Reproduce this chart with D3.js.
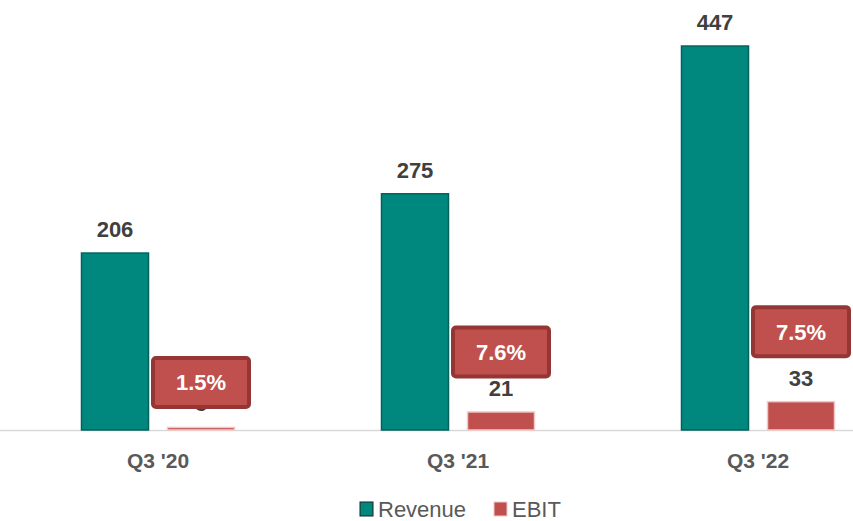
<!DOCTYPE html>
<html>
<head>
<meta charset="utf-8">
<script src="https://cdn.jsdelivr.net/npm/d3@7"></script>
<style>
  body { margin: 0; background: #fff; }
  text { font-family: "Liberation Sans", Arial, sans-serif; }
</style>
</head>
<body>
<div class="svg_area"></div>
<script>
// data
var categories = ["Q3 '20", "Q3 '21", "Q3 '22"];
var series = ["Revenue", "EBIT"];
var revenue = [206, 275, 447];
var ebit = [3, 21, 33];
var margins = ["1.5%", "7.6%", "7.5%"];

// layout
var svgWidth = 853;
var svgHeight = 521;
var baseY = 430;
var boxLift = [45, 60, 70]; // margin box centre above the EBIT bar top

var colors = { Revenue: "#00887f", EBIT: "#c0504d" };
var strokes = { Revenue: "#00625c", EBIT: "#f2c9c8" };

var svg = d3.select(".svg_area")
  .append("svg")
  .attr("width", svgWidth)
  .attr("height", svgHeight);

var x0 = d3.scaleBand()
  .domain(categories)
  .range([8, 908]);

var x1 = d3.scaleBand()
  .domain(series)
  .range([64, 236])
  .paddingInner(19 / 86)
  .paddingOuter(19 / 172);

var y = d3.scaleLinear()
  .domain([0, 500])
  .range([baseY, baseY - 500 * 0.859]);

var rows = categories.map(function(c, i) {
  return { cat: c, Revenue: revenue[i], EBIT: ebit[i], margin: margins[i], i: i };
});

// baseline
svg.append("line")
  .attr("x1", 0).attr("x2", svgWidth)
  .attr("y1", baseY + 0.5).attr("y2", baseY + 0.5)
  .attr("stroke", "#d9d9d9")
  .attr("stroke-width", 1.5);

var groups = svg.selectAll(".grp")
  .data(rows)
  .enter()
  .append("g")
  .attr("class", "grp")
  .attr("transform", d => `translate(${x0(d.cat)},0)`);

// bars
groups.selectAll("rect.bar")
  .data(d => series.map(s => ({ key: s, value: d[s] })))
  .enter()
  .append("rect")
  .attr("class", "bar")
  .attr("x", d => x1(d.key))
  .attr("y", d => y(d.value))
  .attr("width", x1.bandwidth())
  .attr("height", d => baseY - y(d.value))
  .attr("fill", d => colors[d.key])
  .attr("stroke", d => strokes[d.key])
  .attr("stroke-width", 1.5);

// value labels
groups.selectAll("text.val")
  .data(d => series.map(s => ({ key: s, value: d[s] })))
  .enter()
  .append("text")
  .attr("class", "val")
  .attr("x", d => x1(d.key) + x1.bandwidth() / 2)
  .attr("y", d => y(d.value) - 16)
  .attr("text-anchor", "middle")
  .attr("font-size", 22)
  .attr("font-weight", "bold")
  .attr("fill", "#404040")
  .text(d => d.value);

// margin callout boxes
var boxW = 96, boxH = 49;
var boxes = groups.append("g")
  .attr("transform", d => {
    var cx = x1("EBIT") + x1.bandwidth() / 2;
    var cy = y(d.EBIT) - boxLift[d.i];
    return `translate(${cx},${cy})`;
  });

boxes.append("rect")
  .attr("x", -boxW / 2)
  .attr("y", -boxH / 2)
  .attr("width", boxW)
  .attr("height", boxH)
  .attr("rx", 3)
  .attr("fill", "#c0504d")
  .attr("stroke", "#943634")
  .attr("stroke-width", 4);

boxes.append("text")
  .attr("text-anchor", "middle")
  .attr("dy", "0.36em")
  .attr("font-size", 22)
  .attr("font-weight", "bold")
  .attr("fill", "#ffffff")
  .text(d => d.margin);

// category labels
groups.append("text")
  .attr("x", x0.bandwidth() / 2)
  .attr("y", 468)
  .attr("text-anchor", "middle")
  .attr("font-size", 21)
  .attr("font-weight", "bold")
  .attr("fill", "#595959")
  .text(d => d.cat);

// legend
var legend = svg.append("g").attr("transform", "translate(360,502)");
var legendX = [0, 134];
series.forEach(function(s, i) {
  var g = legend.append("g").attr("transform", `translate(${legendX[i]},0)`);
  g.append("rect")
    .attr("width", 13).attr("height", 14)
    .attr("fill", colors[s])
    .attr("stroke", s === "Revenue" ? "#1f1f1f" : "#f2c9c8")
    .attr("stroke-width", 1);
  g.append("text")
    .attr("x", 18)
    .attr("y", 15)
    .attr("font-size", 22)
    .attr("fill", "#595959")
    .text(s);
});
</script>
</body>
</html>
